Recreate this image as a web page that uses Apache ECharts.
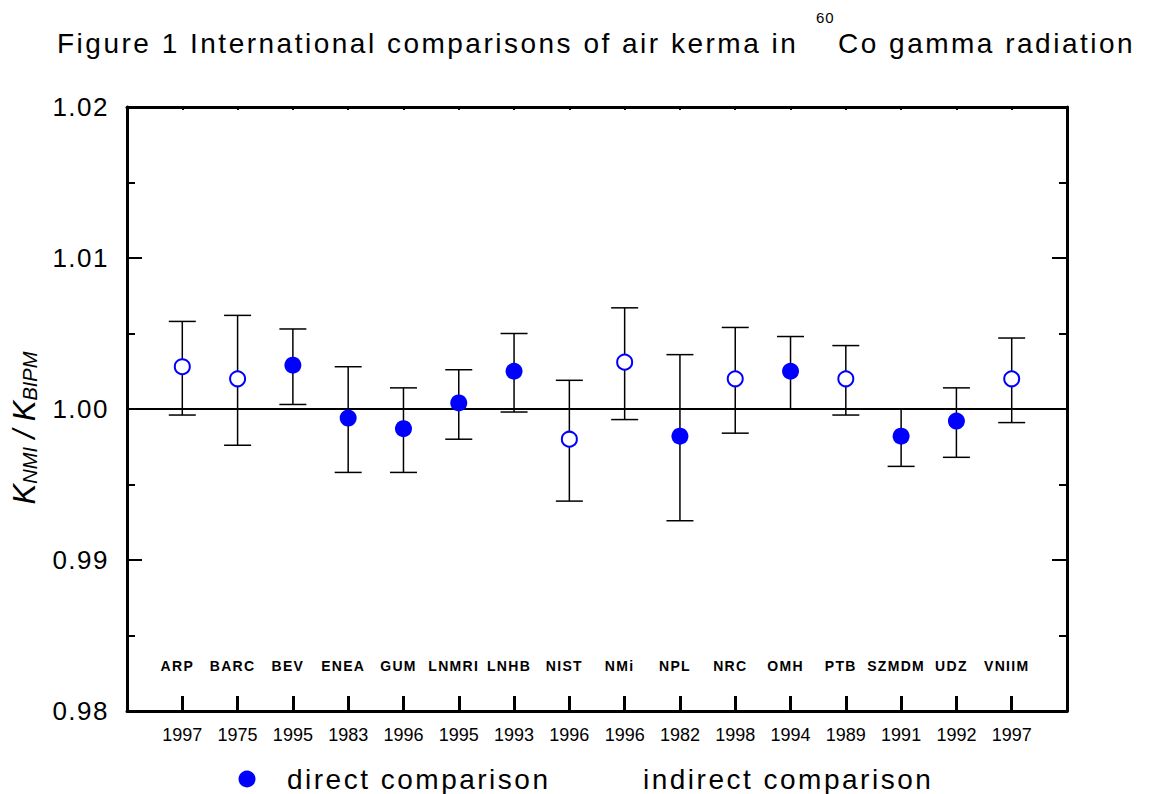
<!DOCTYPE html>
<html>
<head>
<meta charset="utf-8">
<script src="https://cdn.jsdelivr.net/npm/echarts@6/dist/echarts.min.js"></script>
<style>html,body{margin:0;padding:0;background:#fff}#c{width:1151px;height:794px}</style>
</head>
<body>
<div id="c"></div>
<script>
const labs = ['ARP','BARC','BEV','ENEA','GUM','LNMRI','LNHB','NIST','NMi','NPL','NRC','OMH','PTB','SZMDM','UDZ','VNIIM'];
const years = ['1997','1975','1995','1983','1996','1995','1993','1996','1996','1982','1998','1994','1989','1991','1992','1997'];
const ratio = [1.0028,1.0020,1.0029,0.9994,0.9987,1.0004,1.0025,0.9980,1.0031,0.9982,1.0020,1.0025,1.0020,0.9982,0.9992,1.0020];
const lowE  = [0.9996,0.9976,1.0003,0.9958,0.9958,0.9980,0.9998,0.9939,0.9993,0.9926,0.9984,1.0000,0.9996,0.9962,0.9968,0.9991];
const highE = [1.0058,1.0062,1.0053,1.0028,1.0014,1.0026,1.0050,1.0019,1.0067,1.0036,1.0054,1.0048,1.0042,1.0000,1.0014,1.0047];
const kind  = ['i','i','d','d','d','d','d','i','i','d','i','d','i','d','d','i'];
const yTicks = [0.98, 0.99, 1.00, 1.01, 1.02];

const F = '"Liberation Sans", Arial, sans-serif';
const direct = [], indirect = [], errs = [];
ratio.forEach((v, i) => {
  (kind[i] === 'd' ? direct : indirect).push([i + 1, v]);
  errs.push([i + 1, lowE[i], highE[i]]);
});

const chart = echarts.init(document.getElementById('c'), null, { renderer: 'svg' });
chart.setOption({
  animation: false,
  backgroundColor: '#fff',
  grid: { left: 127, right: 84, top: 107, bottom: 83 },
  graphic: [
    { type: 'text', left: 57, top: 29, style: { text: 'Figure 1 International comparisons of air kerma in', font: '28px ' + F, fill: '#000' } },
    { type: 'text', left: 816, top: 10, style: { text: '60', font: '15px ' + F, fill: '#000' } },
    { type: 'text', left: 838, top: 29, style: { text: 'Co gamma radiation', font: '28px ' + F, fill: '#000' } },
    { type: 'text', x: 24, y: 428, rotation: Math.PI / 2,
      style: { text: '{k|K}{s|NMI}{k| / K}{s|BIPM}', align: 'center', verticalAlign: 'middle',
        rich: { k: { fontFamily: F, fontStyle: 'italic', fontSize: 31, fill: '#000', color: '#000' },
                s: { fontFamily: F, fontStyle: 'italic', fontSize: 20, fill: '#000', color: '#000', verticalAlign: 'bottom', padding: [9, 0, 0, 0] } } } },
    { type: 'circle', shape: { cx: 247, cy: 779, r: 8.5 }, style: { fill: '#0000ff' } },
    { type: 'text', x: 287, y: 779, style: { text: 'direct comparison', font: '28px ' + F, fill: '#000', verticalAlign: 'middle' } },
    { type: 'text', x: 643, y: 779, style: { text: 'indirect comparison', font: '28px ' + F, fill: '#000', verticalAlign: 'middle' } }
  ],
  xAxis: [
    { type: 'value', min: 0, max: 17, interval: 1, position: 'bottom',
      axisLine: { onZero: false, lineStyle: { color: '#000', width: 3 } },
      axisTick: { inside: true, length: 15, lineStyle: { color: '#000', width: 3 } },
      splitLine: { show: false },
      axisLabel: { margin: 15, fontFamily: F, fontSize: 18, color: '#000', formatter: v => years[v - 1] || '' } },
    { type: 'value', min: 0, max: 17, interval: 1, position: 'bottom',
      axisLine: { show: false, onZero: false }, axisTick: { show: false }, splitLine: { show: false },
      axisLabel: { inside: true, margin: 38, fontFamily: F, fontSize: 14, fontWeight: 'bold', color: '#000', padding: [0, 10, 0, 0], formatter: v => labs[v - 1] || '' } },
    { type: 'value', min: 0, max: 17, interval: 1, position: 'top',
      axisLine: { onZero: false, lineStyle: { color: '#000', width: 3 } },
      axisTick: { inside: true, length: 3, lineStyle: { color: '#000', width: 2 } },
      splitLine: { show: false }, axisLabel: { show: false } }
  ],
  yAxis: [
    { type: 'value', min: 0.98, max: 1.02, interval: 0.01, position: 'left',
      axisLine: { onZero: false, lineStyle: { color: '#000', width: 3 } },
      axisTick: { inside: true, length: 15, lineStyle: { color: '#000', width: 2 } },
      minorTick: { show: true, splitNumber: 2, length: 8, lineStyle: { color: '#000', width: 2 } },
      splitLine: { show: false },
      axisLabel: { margin: 18, fontFamily: F, fontSize: 26, color: '#000',
        formatter: v => { const t = yTicks.find(x => Math.abs(x - v) < 1e-9); return t !== undefined ? t.toFixed(2) : ''; } } },
    { type: 'value', min: 0.98, max: 1.02, interval: 0.01, position: 'right',
      axisLine: { onZero: false, lineStyle: { color: '#000', width: 3 } },
      axisTick: { inside: true, length: 15, lineStyle: { color: '#000', width: 2 } },
      minorTick: { show: true, splitNumber: 2, length: 8, lineStyle: { color: '#000', width: 2 } },
      splitLine: { show: false }, axisLabel: { show: false } }
  ],
  series: [
    { type: 'custom', name: 'err', xAxisIndex: 0, yAxisIndex: 0, data: errs, z: 2,
      encode: { x: 0, y: [1, 2] },
      renderItem: (params, api) => {
        const x = api.value(0);
        const lo = api.coord([x, api.value(1)]);
        const hi = api.coord([x, api.value(2)]);
        const w = 13.5;
        const st = { stroke: '#000', lineWidth: 1.5 };
        return { type: 'group', children: [
          { type: 'line', shape: { x1: lo[0], y1: lo[1], x2: hi[0], y2: hi[1] }, style: st },
          { type: 'line', shape: { x1: lo[0] - w, y1: lo[1], x2: lo[0] + w, y2: lo[1] }, style: st },
          { type: 'line', shape: { x1: hi[0] - w, y1: hi[1], x2: hi[0] + w, y2: hi[1] }, style: st }
        ] };
      },
      markLine: { silent: true, symbol: 'none', label: { show: false },
        lineStyle: { color: '#000', width: 2, type: 'solid' }, data: [{ yAxis: 1.0 }] }
    },
    { type: 'scatter', name: 'direct comparison', data: direct, symbol: 'circle', symbolSize: 17, z: 5,
      itemStyle: { color: '#0000ff', opacity: 1 } },
    { type: 'scatter', name: 'indirect comparison', data: indirect, symbol: 'circle', symbolSize: 15, z: 5,
      itemStyle: { color: '#ffffff', borderColor: '#0000ff', borderWidth: 2, opacity: 1 } }
  ]
});

function spaceText() {
  const spacing = { 28: 2.5, 26: 1.5, 14: 1.3, 15: 1 };
  document.querySelectorAll('#c svg text').forEach(t => {
    const fs = Math.round(parseFloat(getComputedStyle(t).fontSize));
    if (spacing[fs] !== undefined) t.setAttribute('letter-spacing', spacing[fs]);
  });
}
chart.on('finished', spaceText);
spaceText();
setTimeout(spaceText, 50);
setTimeout(spaceText, 300);
</script>
</body>
</html>
